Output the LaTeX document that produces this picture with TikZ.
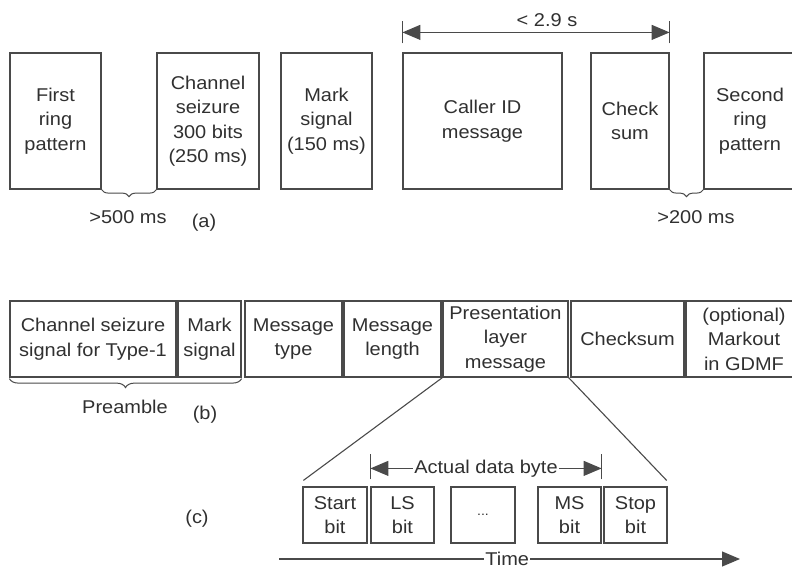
\documentclass[tikz,border=0pt]{standalone}
\usepackage{fontspec}
\setmainfont{Liberation Sans}[FakeStretch=1.08]
\usetikzlibrary{arrows.meta,decorations.pathreplacing,calc}
\definecolor{ln}{HTML}{4A4A4A}
\definecolor{tx}{HTML}{303030}
\begin{document}
\begin{tikzpicture}[x=1pt,y=-1pt,
  font=\fontsize{18.5}{24.5}\selectfont, text=tx,
  box/.style={draw=ln, line width=1.2pt, align=center, inner sep=0pt},
  toprow/.style={box, minimum height=136pt},
  midrow/.style={box, minimum height=76pt},
  botrow/.style={box, minimum height=56pt},
  lbl/.style={inner sep=0pt},
  conn/.style={draw=ln, line width=1.1pt},
  bigtip/.tip={Triangle[length=18pt,width=15pt]},
  bothtips/.style={bigtip-bigtip},
  brc/.style={draw=ln, line width=1pt, decorate}]
\clip (0,0) rectangle (792,568);
\useasboundingbox (0,0) rectangle (792,568);
% (a) top row
\node[toprow, minimum width=91pt]  (r1)  at (55.5,121) {First\\ring\\pattern};
\node[toprow, minimum width=102pt] (cs)  at (208,121)  {Channel\\seizure\\300 bits\\(250 ms)};
\node[toprow, minimum width=91pt]  (mk)  at (326.5,121) {Mark\\signal\\(150 ms)};
\node[toprow, minimum width=159pt] (cid) at (482.5,121) {Caller ID\\message};
\node[toprow, minimum width=78pt]  (ck)  at (630,121)  {Check\\sum};
\node[toprow, minimum width=92pt]  (r2)  at (750,121)  {Second\\ring\\pattern};
\draw[brc, decoration={brace,mirror,amplitude=7pt}] (r1.south east) -- (cs.south west);
\draw[brc, decoration={brace,mirror,amplitude=7pt}] (ck.south east) -- (r2.south west);
\node[lbl] (t500) at (128,217) {>500 ms};
\node[lbl] (t200) at (696,217) {>200 ms};
\node[lbl] (la) at (204,223) {(a)};
\draw[conn] ($(cid.north west)+(0,-9)$) -- ($(cid.north west)+(0,-31)$);
\draw[conn] ($(ck.north east)+(0,-9)$) -- ($(ck.north east)+(0,-31)$);
\draw[conn, bothtips] ($(cid.north west)+(0,-20)$) -- ($(ck.north east)+(0,-20)$);
\node[lbl] (t29) at (547,20) {< 2.9 s};
% (b) middle row
\node[midrow, minimum width=166pt] (ch2) at (93,339)    {Channel seizure\\signal for Type-1};
\node[midrow, minimum width=63pt]  (mk2) at (209.5,339) {Mark\\signal};
\node[midrow, minimum width=97pt]  (mt)  at (293.5,339) {Message\\type};
\node[midrow, minimum width=97pt]  (ml)  at (392.5,339) {Message\\length};
\node[midrow, minimum width=125pt] (pl)  at (505.5,339) {Presentation\\layer\\message};
\node[midrow, minimum width=113pt] (ck2) at (627.5,339) {Checksum};
\node[midrow, minimum width=116pt] (mo)  at (744,339)   {(optional)\\Markout\\in GDMF};
\draw[brc, decoration={brace,mirror,amplitude=9pt,raise=1pt}] (ch2.south west) -- (mk2.south east);
\node[lbl] (pre) at (125,407) {Preamble};
\node[lbl] (lb) at (205,415) {(b)};
% (c) bottom row
\node[botrow, minimum width=64pt] (sb)  at (335,515)   {Start\\bit};
\node[botrow, minimum width=63pt] (ls)  at (402.5,515) {LS\\bit};
\node[botrow, minimum width=64pt] (dt)  at (483,515)   {\fontsize{13}{14}\selectfont ...};
\node[botrow, minimum width=63pt] (ms)  at (569.5,515) {MS\\bit};
\node[botrow, minimum width=63pt] (stp) at (635.5,515) {Stop\\bit};
\node[lbl] (lc) at (197,519) {(c)};
\draw[conn] (pl.south west) -- ($(sb.north west)+(1,-6)$);
\draw[conn] (pl.south east) -- ($(stp.north east)+(-1,-6)$);
\draw[conn] ($(ls.north west)+(0,-7)$) -- ($(ls.north west)+(0,-32)$);
\draw[conn] ($(ms.north east)+(0,-7)$) -- ($(ms.north east)+(0,-32)$);
\draw[conn, bothtips] ($(ls.north west)+(0,-18)$) -- node[fill=white, inner sep=1pt] (adb) {Actual data byte} ($(ms.north east)+(0,-18)$);
\coordinate (tl) at (279,559);
\coordinate (tr) at (740,559);
\draw[conn, -bigtip] (tl) -- node[fill=white, inner sep=1pt, pos=0.495] (tm) {Time} (tr);
\end{tikzpicture}
\end{document}
